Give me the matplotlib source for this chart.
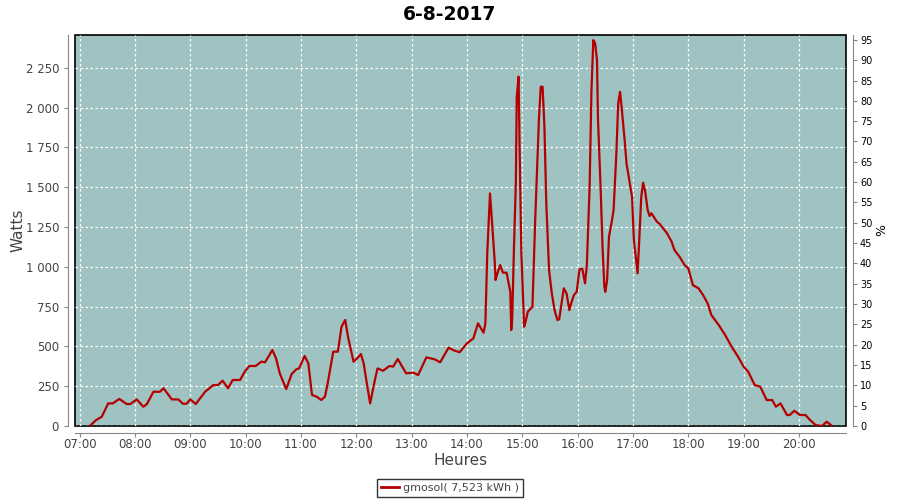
import matplotlib
matplotlib.use('Agg')
import matplotlib.pyplot as plt
from matplotlib.ticker import FixedLocator, FuncFormatter

# data
times = ['07:11', '07:18', '07:24', '07:31', '07:36', '07:43', '07:51', '07:55',
         '08:02', '08:09', '08:13', '08:20', '08:27', '08:31', '08:40', '08:47',
         '08:52', '08:56', '09:00', '09:06', '09:16', '09:25', '09:30', '09:35',
         '09:41', '09:46', '09:54', '09:59', '10:04', '10:11', '10:17', '10:21',
         '10:29', '10:33', '10:37', '10:44', '10:50', '10:55', '10:58', '11:04',
         '11:08', '11:12', '11:17', '11:22', '11:26', '11:29', '11:35', '11:40',
         '11:44', '11:48', '11:51', '11:57', '12:01', '12:05', '12:08', '12:12',
         '12:15', '12:19', '12:23', '12:29', '12:36', '12:40', '12:45', '12:54',
         '13:02', '13:07', '13:16', '13:25', '13:31', '13:40', '13:45', '13:52',
         '14:00', '14:07', '14:12', '14:18', '14:20', '14:22', '14:25', '14:27',
         '14:30', '14:31', '14:33', '14:36', '14:39', '14:43', '14:47', '14:48',
         '14:49', '14:51', '14:53', '14:54', '14:56', '14:57', '14:59', '15:02',
         '15:04', '15:06', '15:11', '15:14', '15:18', '15:20', '15:22', '15:24',
         '15:26', '15:29', '15:32', '15:35', '15:38', '15:40', '15:42', '15:45',
         '15:48', '15:51', '15:53', '15:56', '15:59', '16:02', '16:05', '16:08',
         '16:10', '16:13', '16:15', '16:17', '16:19', '16:21', '16:22', '16:25',
         '16:27', '16:29', '16:30', '16:32', '16:34', '16:37', '16:39', '16:42',
         '16:44', '16:46', '16:48', '16:51', '16:53', '16:56', '16:59', '17:01',
         '17:03', '17:05', '17:07', '17:09', '17:11', '17:13', '17:16', '17:18',
         '17:20', '17:26', '17:29', '17:37', '17:42', '17:45', '17:51', '17:56',
         '18:00', '18:05', '18:11', '18:16', '18:21', '18:25', '18:33', '18:40',
         '18:47', '18:54', '19:00', '19:05', '19:12', '19:18', '19:25', '19:31',
         '19:35', '19:40', '19:47', '19:50', '19:55', '20:01', '20:07', '20:12',
         '20:18', '20:25', '20:30', '20:36']
watts = [0, 38, 58, 142, 142, 170, 138, 138,
         167, 121, 138, 215, 215, 237, 167, 167,
         140, 140, 167, 138, 215, 257, 257, 285,
         237, 289, 289, 341, 377, 377, 404, 400,
         477, 425, 331, 232, 327, 356, 362, 440,
         394, 195, 184, 163, 184, 268, 467, 467,
         624, 666, 561, 404, 425, 452, 394, 247,
         142, 257, 362, 347, 377, 373, 421, 331,
         335, 320, 431, 419, 400, 492, 477, 463,
         519, 551, 645, 586, 645, 1085, 1461, 1294,
         1043, 917, 959, 1011, 963, 963, 843, 603,
         666, 1126, 1524, 2068, 2194, 1775, 1085, 624,
         666, 718, 749, 1294, 1922, 2131, 2131, 1880,
         1399, 980, 833, 728, 666, 670, 749, 865,
         833, 728, 770, 823, 843, 984, 989, 896,
         1011, 1503, 2110, 2424, 2403, 2298, 1942, 1482,
         1126, 875, 843, 917, 1189, 1283, 1356, 1713,
         2027, 2099, 1984, 1796, 1650, 1545, 1440, 1168,
         1063, 959, 1189, 1440, 1528, 1482, 1356, 1319,
         1336, 1283, 1269, 1210, 1157, 1105, 1059, 1011,
         990, 885, 865, 823, 770, 697, 634, 571,
         498, 435, 372, 341, 257, 247, 163, 163,
         121, 142, 69, 69, 96, 69, 69, 38,
         6, 0, 27, 0]
hour_ticks = list(range(7, 21))
watt_ticks = list(range(0, 2251, 250))
pct_ticks = list(range(0, 96, 5))
legend_label = 'gmosol( 7,523 kWh )'


def to_hours(s):
    h, m = s.split(':')
    return int(h) + int(m) / 60.0


hours = [to_hours(t) for t in times]

bg = '#9EC3C2'
red = '#B40000'
txt = '#444444'

fig = plt.figure(figsize=(9, 5), dpi=100)
fig.patch.set_facecolor('white')
ax = fig.add_axes([75 / 900, 1 - 426 / 500, (846 - 75) / 900, (426 - 35) / 500])
ax.set_facecolor(bg)
ax.patch.set_edgecolor('black')
ax.patch.set_linewidth(1.2)

ax.plot(hours, watts, color=red, lw=1.6, zorder=3)

ax.set_xlim(to_hours('06:55'), to_hours('20:51'))
ax.set_ylim(0, 2456)
ax.xaxis.set_major_locator(FixedLocator(hour_ticks))
ax.xaxis.set_major_formatter(FuncFormatter(lambda v, p: '%02d:00' % int(round(v))))
ax.yaxis.set_major_locator(FixedLocator(watt_ticks))
ax.yaxis.set_major_formatter(FuncFormatter(lambda v, p: '{:,}'.format(int(v)).replace(',', ' ')))
ax.grid(True, color='white', ls=(0, (2, 2)), lw=0.9)
ax.set_axisbelow(True)

for side in ['top', 'right']:
    ax.spines[side].set_visible(False)
for side in ['left', 'bottom']:
    ax.spines[side].set_position(('outward', 5))
    ax.spines[side].set_color('#888888')
ax.tick_params(colors='#888888', labelcolor=txt, labelsize=8.5, length=3)
ax.tick_params(axis='x', pad=1)

ax.set_xlabel('Heures', fontsize=11, color=txt, labelpad=1)
ax.set_ylabel('Watts', fontsize=11, color=txt, labelpad=0)

ax2 = ax.twinx()
ax2.set_ylim(0, 96.2)
ax2.yaxis.set_major_locator(FixedLocator(pct_ticks))
for side in ['top', 'left', 'bottom']:
    ax2.spines[side].set_visible(False)
ax2.spines['right'].set_position(('outward', 5))
ax2.spines['right'].set_color('#888888')
ax2.tick_params(colors='#888888', labelcolor='black', labelsize=7, length=3, pad=2)
ax2.set_ylabel('%', fontsize=9, color='black', labelpad=2)

fig.text(0.5, 0.97, '6-8-2017', ha='center', va='center', fontsize=13.5, fontweight='bold')

handle = plt.Line2D([], [], color=red, lw=2)
fig.legend([handle], [legend_label], loc='center', bbox_to_anchor=(0.5, 0.024),
           frameon=True, fancybox=False, edgecolor='black', fontsize=8,
           handlelength=1.6, handletextpad=0.4, borderpad=0.35, labelcolor=txt)

fig.savefig('out.png', dpi=100)
